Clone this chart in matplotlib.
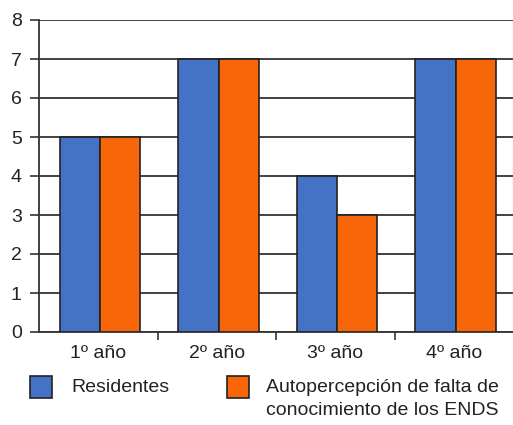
import matplotlib.pyplot as plt
import numpy as np
from matplotlib.patches import Rectangle

plt.rcParams['font.family'] = ['Liberation Sans', 'DejaVu Sans']

# datos
categorias = ['1º año', '2º año', '3º año', '4º año']
residentes = [5, 7, 4, 7]
autopercepcion = [5, 7, 3, 7]
etiquetas = ['Residentes', 'Autopercepción de falta de\nconocimiento de los ENDS']
colores = ['#4472c4', '#f7670a']

fig = plt.figure(figsize=(5.13, 4.25), dpi=100)
ax = fig.add_axes([39/513, 1-332/425, 474/513, 312/425])

x = np.arange(len(categorias))
w = 0.338
ax.bar(x - w/2 + 0.015, residentes, w, color=colores[0], edgecolor='#222222', linewidth=1.2, zorder=3)
ax.bar(x + w/2 + 0.015, autopercepcion, w, color=colores[1], edgecolor='#222222', linewidth=1.2, zorder=3)

ax.set_xlim(-0.5, 3.5)
ax.set_ylim(0, 8)
ax.set_yticks(range(9))
ax.yaxis.grid(True, color='#333333', linewidth=1.3, zorder=0)
ax.tick_params(axis='y', length=6.5, width=1.2, color='#333333', pad=6,
               labelsize=14, labelcolor='#222222')

# etiquetas en el centro, marcas en los limites
ax.set_xticks(x)
ax.set_xticklabels(categorias)
ax.tick_params(axis='x', which='major', length=0, pad=9, labelsize=14, labelcolor='#222222')
ax.set_xticks([0.5, 1.5, 2.5], minor=True)
ax.tick_params(axis='x', which='minor', length=6, width=1.2, color='#333333')

ax.spines['top'].set_visible(False)
ax.spines['right'].set_color('#aaaaaa')
for s in ['left', 'bottom']:
    ax.spines[s].set_color('#333333')
    ax.spines[s].set_linewidth(1.3)

# leyenda
fig.patches.append(Rectangle((30/513, 1-398/425), 22/513, 22/425, transform=fig.transFigure,
                             facecolor=colores[0], edgecolor='#222222', linewidth=1.2))
fig.text(71/513, 1-388/425, etiquetas[0], fontsize=14, color='#222222', va='center', ha='left')
fig.patches.append(Rectangle((227/513, 1-398/425), 22/513, 22/425, transform=fig.transFigure,
                             facecolor=colores[1], edgecolor='#222222', linewidth=1.2))
fig.text(266/513, 1-379/425, etiquetas[1], fontsize=14, color='#222222', va='top', ha='left',
         linespacing=1.45)

fig.savefig('out.png', dpi=100)
